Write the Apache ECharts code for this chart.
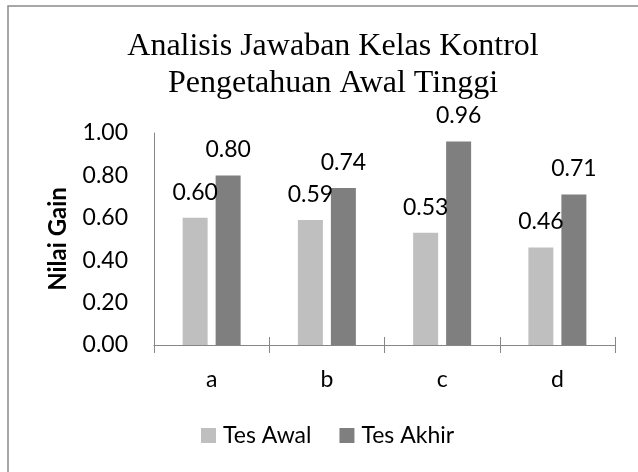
<!DOCTYPE html>
<html>
<head>
<meta charset="utf-8">
<script src="https://cdn.jsdelivr.net/npm/echarts@6/dist/echarts.min.js"></script>
<style>
html,body{margin:0;padding:0;background:#fff;}
#chart{width:638px;height:472px;}
</style>
</head>
<body>
<div id="chart"></div>
<script>
const categories = ['a', 'b', 'c', 'd'];
const tesAwal = [0.60, 0.59, 0.53, 0.46];
const tesAkhir = [0.80, 0.74, 0.96, 0.71];
const seriesNames = ['Tes Awal', 'Tes Akhir'];
const titleText = 'Analisis Jawaban Kelas Kontrol\nPengetahuan Awal Tinggi';
const yAxisName = 'Nilai Gain';

const sansFont = 'Lato';
const fs = 23;
const chart = echarts.init(document.getElementById('chart'), null, {renderer: 'canvas'});
const labelStyle = {
  show: true, position: 'top', distance: 14,
  formatter: p => p.value.toFixed(2),
  fontFamily: sansFont, fontSize: fs, color: '#000'
};
chart.setOption({
  animation: false,
  backgroundColor: '#fff',
  graphic: [{
    type: 'rect', shape: {x: 8, y: 6, width: 700, height: 600},
    style: {fill: 'none', stroke: '#8a8a8a', lineWidth: 1.5}, silent: true, z: -1
  }],
  title: {
    text: titleText, left: 328, textAlign: 'center', top: 23,
    textStyle: {fontFamily: 'Liberation Serif', fontSize: 32, fontWeight: 'normal', color: '#000', lineHeight: 37}
  },
  legend: {
    data: seriesNames, left: 201, top: 424, padding: 0, itemWidth: 15, itemHeight: 15, itemGap: 28,
    icon: 'rect',
    textStyle: {fontFamily: sansFont, fontSize: fs, color: '#000', padding: [0, 0, 0, 2]}
  },
  grid: {left: 154, right: 23, top: 133, bottom: 127, containLabel: false},
  xAxis: [{
    type: 'category', data: categories, position: 'bottom',
    axisLine: {show: true, lineStyle: {color: '#868686', width: 1}},
    axisTick: {show: true, length: 8, lineStyle: {color: '#868686'}},
    axisLabel: {fontFamily: sansFont, fontSize: fs, color: '#000', margin: 23}
  }, {
    type: 'category', data: categories, position: 'bottom',
    axisLine: {show: false},
    axisTick: {show: true, inside: true, length: 8, lineStyle: {color: '#868686'}},
    axisLabel: {show: false}
  }],
  yAxis: {
    type: 'value', min: 0, max: 1, interval: 0.2,
    name: yAxisName, nameLocation: 'middle', nameGap: 84, nameRotate: 90,
    nameTextStyle: {fontFamily: sansFont, fontSize: 24, fontWeight: 'bold', color: '#000'},
    axisLine: {show: true, lineStyle: {color: '#868686', width: 1}},
    axisTick: {show: false},
    splitLine: {show: false},
    axisLabel: {fontFamily: sansFont, fontSize: fs, color: '#000', margin: 26, formatter: v => v.toFixed(2)}
  },
  series: [{
    name: seriesNames[0], type: 'bar', data: tesAwal, barWidth: 25, barGap: '32%',
    itemStyle: {color: '#bfbfbf'}, label: labelStyle
  }, {
    name: seriesNames[1], type: 'bar', data: tesAkhir, barWidth: 25, barGap: '32%',
    itemStyle: {color: '#7f7f7f'}, label: labelStyle
  }]
});
</script>
</body>
</html>
